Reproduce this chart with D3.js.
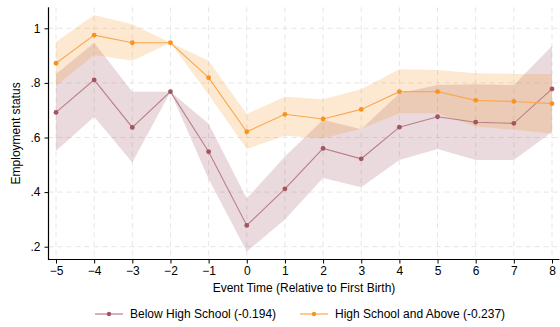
<!DOCTYPE html>
<html>
<head>
<meta charset="utf-8">
<script src="https://cdn.jsdelivr.net/npm/d3@7"></script>
<style>
  html, body { margin: 0; padding: 0; background: #fff; }
  svg { display: block; font-family: "Liberation Sans", Arial, Helvetica, sans-serif; }
</style>
</head>
<body>
<svg id="chart" width="560" height="327"></svg>
<script>
// Event time relative to first birth
const events = [-5, -4, -3, -2, -1, 0, 1, 2, 3, 4, 5, 6, 7, 8];

// Below High School: point estimates and 95% CI
const belowMean = [0.692, 0.811, 0.637, 0.768, 0.548, 0.278, 0.412, 0.560, 0.522, 0.638, 0.676, 0.656, 0.652, 0.778];
const belowLo   = [0.551, 0.676, 0.508, 0.768, 0.448, 0.182, 0.300, 0.452, 0.418, 0.518, 0.558, 0.518, 0.518, 0.620];
const belowHi   = [0.833, 0.947, 0.768, 0.768, 0.650, 0.377, 0.530, 0.665, 0.630, 0.762, 0.792, 0.795, 0.792, 0.935];

// High School and Above: point estimates and 95% CI
const aboveMean = [0.872, 0.975, 0.947, 0.947, 0.819, 0.621, 0.685, 0.668, 0.703, 0.768, 0.768, 0.736, 0.732, 0.724];
const aboveLo   = [0.789, 0.902, 0.881, 0.947, 0.757, 0.558, 0.606, 0.597, 0.632, 0.689, 0.689, 0.640, 0.628, 0.615];
const aboveHi   = [0.951, 1.049, 1.015, 0.947, 0.881, 0.686, 0.749, 0.740, 0.777, 0.850, 0.847, 0.835, 0.833, 0.833];

const yTicks = [0.2, 0.4, 0.6, 0.8, 1];
const yTickLabels = [".2", ".4", ".6", ".8", "1"];
const seriesNames = ["Below High School (-0.194)", "High School and Above (-0.237)"];

const svg = d3.select("#chart");
const FONT = "Liberation Sans, Arial, sans-serif";

// plot frame
const frame = { left: 48.5, right: 559.5, top: 7.3, bottom: 259.5 };

const x = d3.scaleLinear().domain([-5, 8]).range([56, 552]);
const y = d3.scaleLinear().domain([0.2, 1]).range([246.7, 28.3]);

const series = [
  { name: seriesNames[0], mean: belowMean, lo: belowLo, hi: belowHi,
    band: "rgb(150,70,85)", line: "#b97f87", dot: "#a3545f" },
  { name: seriesNames[1], mean: aboveMean, lo: aboveLo, hi: aboveHi,
    band: "rgb(245,145,30)", line: "#f9a94f", dot: "#f7931e" }
];

// gridlines
const grid = svg.append("g").attr("stroke", "#e6e6e6").attr("stroke-width", 1)
  .attr("stroke-dasharray", "5,4");
grid.selectAll("line.h").data(yTicks).join("line")
  .attr("x1", frame.left).attr("x2", frame.right)
  .attr("y1", d => y(d)).attr("y2", d => y(d));
grid.selectAll("line.v").data(events).join("line")
  .attr("y1", frame.top).attr("y2", frame.bottom)
  .attr("x1", d => x(d)).attr("x2", d => x(d));

// confidence bands
const area = (s) => d3.area()
  .x((d, i) => x(events[i]))
  .y0((d, i) => y(s.lo[i]))
  .y1((d, i) => y(s.hi[i]));
series.forEach(s => {
  svg.append("path")
    .attr("d", area(s)(events))
    .attr("fill", s.band)
    .attr("fill-opacity", 0.2);
});

// lines and markers
const line = (s) => d3.line()
  .x((d, i) => x(events[i]))
  .y((d, i) => y(s.mean[i]));
series.forEach(s => {
  svg.append("path")
    .attr("d", line(s)(events))
    .attr("fill", "none")
    .attr("stroke", s.line)
    .attr("stroke-width", 1.1);
  svg.append("g").selectAll("circle").data(events).join("circle")
    .attr("cx", d => x(d))
    .attr("cy", (d, i) => y(s.mean[i]))
    .attr("r", 2.4)
    .attr("fill", s.dot);
});

// y axis
const yAxis = d3.axisLeft(y).tickValues(yTicks)
  .tickFormat((d, i) => yTickLabels[i]).tickSize(4).tickPadding(4);
const gy = svg.append("g").attr("transform", `translate(${frame.left},0)`).call(yAxis);
gy.select(".domain").remove();
gy.selectAll(".tick line").attr("stroke", "#000");
gy.selectAll(".tick text").attr("font-size", 12).attr("fill", "#000")
  .attr("font-family", FONT);

// x axis
const xAxis = d3.axisBottom(x).tickValues(events).tickSize(4).tickPadding(3)
  .tickFormat(d3.format("d"));
const gx = svg.append("g").attr("transform", `translate(0,${frame.bottom})`).call(xAxis);
gx.select(".domain").remove();
gx.selectAll(".tick line").attr("stroke", "#000");
gx.selectAll(".tick text").attr("font-size", 12).attr("fill", "#000")
  .attr("font-family", FONT);

// axis lines
svg.append("line").attr("x1", frame.left).attr("x2", frame.left)
  .attr("y1", frame.top).attr("y2", frame.bottom + 0.5)
  .attr("stroke", "#000").attr("stroke-width", 1.2);
svg.append("line").attr("x1", frame.left).attr("x2", frame.right)
  .attr("y1", frame.bottom).attr("y2", frame.bottom)
  .attr("stroke", "#000").attr("stroke-width", 1.2);

// axis titles
svg.append("text")
  .attr("transform", `translate(16,${(frame.top + frame.bottom) / 2}) rotate(-90)`)
  .attr("text-anchor", "middle").attr("dominant-baseline", "central")
  .attr("font-size", 12).attr("font-family", FONT).text("Employment status");
svg.append("text")
  .attr("x", (frame.left + frame.right) / 2).attr("y", 292)
  .attr("text-anchor", "middle").attr("font-size", 12).attr("font-family", FONT)
  .text("Event Time (Relative to First Birth)");

// legend
const legendY = 314;
const legendItems = [
  { s: series[0], x0: 95, tx: 130 },
  { s: series[1], x0: 300, tx: 335 }
];
legendItems.forEach(item => {
  svg.append("line")
    .attr("x1", item.x0).attr("x2", item.x0 + 28)
    .attr("y1", legendY).attr("y2", legendY)
    .attr("stroke", item.s.line).attr("stroke-width", 1.2);
  svg.append("circle").attr("cx", item.x0 + 14).attr("cy", legendY)
    .attr("r", 2.2).attr("fill", item.s.dot);
  svg.append("text").attr("x", item.tx).attr("y", legendY)
    .attr("dominant-baseline", "central").attr("font-size", 12)
    .attr("font-family", FONT)
    .text(item.s.name);
});
</script>
</body>
</html>
